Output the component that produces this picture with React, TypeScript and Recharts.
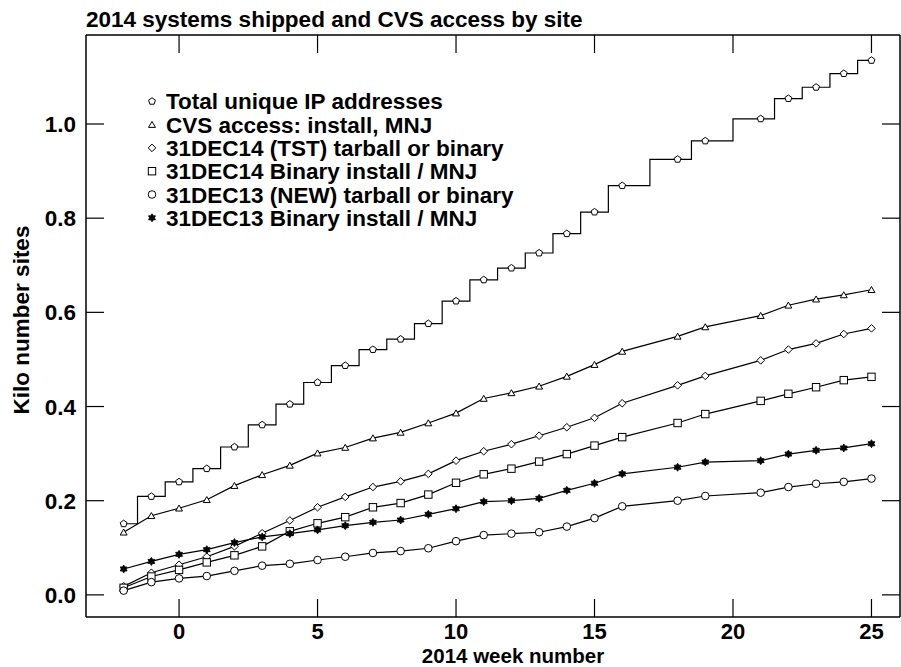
import React from 'react';
import { LineChart, Line, XAxis, YAxis } from 'recharts';

document.body.style.margin = '0';

// weeks 17 and 20 have no samples
const weeks = [-2, -1, 0, 1, 2, 3, 4, 5, 6, 7, 8, 9, 10, 11, 12, 13, 14, 15, 16, 18, 19, 21, 22, 23, 24, 25];

const totalIp = [0.151, 0.209, 0.240, 0.268, 0.314, 0.361, 0.405, 0.451, 0.487, 0.521, 0.543, 0.576, 0.624, 0.669, 0.694, 0.726, 0.767, 0.813, 0.869, 0.925, 0.964, 1.011, 1.054, 1.078, 1.107, 1.135];
const cvsAccess = [0.133, 0.168, 0.184, 0.202, 0.232, 0.255, 0.275, 0.301, 0.313, 0.333, 0.345, 0.365, 0.386, 0.417, 0.429, 0.443, 0.464, 0.489, 0.517, 0.549, 0.569, 0.593, 0.615, 0.628, 0.637, 0.648];
const tst14 = [0.018, 0.047, 0.064, 0.081, 0.103, 0.131, 0.158, 0.186, 0.208, 0.229, 0.241, 0.257, 0.285, 0.305, 0.320, 0.338, 0.356, 0.376, 0.407, 0.445, 0.465, 0.498, 0.521, 0.534, 0.554, 0.566];
const bin14 = [0.015, 0.039, 0.053, 0.069, 0.084, 0.103, 0.135, 0.152, 0.165, 0.186, 0.195, 0.213, 0.238, 0.256, 0.268, 0.283, 0.299, 0.317, 0.335, 0.365, 0.384, 0.412, 0.427, 0.441, 0.456, 0.463];
const new13 = [0.009, 0.027, 0.035, 0.040, 0.051, 0.062, 0.066, 0.074, 0.081, 0.089, 0.093, 0.099, 0.114, 0.127, 0.130, 0.133, 0.145, 0.163, 0.188, 0.200, 0.210, 0.217, 0.229, 0.236, 0.240, 0.247];
const bin13 = [0.055, 0.071, 0.086, 0.096, 0.111, 0.123, 0.130, 0.138, 0.147, 0.154, 0.159, 0.171, 0.183, 0.198, 0.200, 0.205, 0.222, 0.237, 0.257, 0.271, 0.282, 0.285, 0.299, 0.307, 0.312, 0.321];

const xTicks = [0, 5, 10, 15, 20, 25];
const yTicks = [0, 0.2, 0.4, 0.6, 0.8, 1.0];

const seriesDefs = [
  { key: 'totalIp', name: 'Total unique IP addresses', shape: 'pentagon', values: totalIp, type: 'step' },
  { key: 'cvsAccess', name: 'CVS access: install, MNJ', shape: 'triangle', values: cvsAccess, type: 'linear' },
  { key: 'tst14', name: '31DEC14 (TST) tarball or binary', shape: 'diamond', values: tst14, type: 'linear' },
  { key: 'bin14', name: '31DEC14 Binary install / MNJ', shape: 'square', values: bin14, type: 'linear' },
  { key: 'new13', name: '31DEC13 (NEW) tarball or binary', shape: 'circle', values: new13, type: 'linear' },
  { key: 'bin13', name: '31DEC13 Binary install / MNJ', shape: 'star', values: bin13, type: 'linear' },
];

const data = weeks.map((w, i) => {
  const row: Record<string, number> = { week: w };
  seriesDefs.forEach(s => { row[s.key] = s.values[i]; });
  return row;
});

const FONT = '"Liberation Sans", Arial, Helvetica, sans-serif';
const FS = 22.5;
const W = 901;
const H = 667;
const TICK = 18;

function polyPoints(cx: number, cy: number, n: number, r: number, rot: number, inner?: number) {
  const pts: string[] = [];
  const count = inner ? n * 2 : n;
  for (let i = 0; i < count; i++) {
    const rr = inner && i % 2 === 1 ? inner : r;
    const a = rot + (i * 2 * Math.PI) / count;
    pts.push(`${cx + rr * Math.sin(a)},${cy - rr * Math.cos(a)}`);
  }
  return pts.join(' ');
}

function Marker({ cx, cy, shape }: { cx: number; cy: number; shape: string }) {
  const common = { stroke: '#000', strokeWidth: 1, fill: '#fff' };
  switch (shape) {
    case 'pentagon':
      return <polygon points={polyPoints(cx, cy, 5, 3.6, 0)} {...common} />;
    case 'triangle':
      return <polygon points={polyPoints(cx, cy + 0.8, 3, 4, 0)} {...common} />;
    case 'diamond':
      return <polygon points={polyPoints(cx, cy, 4, 3.8, 0)} {...common} />;
    case 'square':
      return <rect x={cx - 3.7} y={cy - 3.7} width={7.4} height={7.4} {...common} />;
    case 'circle':
      return <circle cx={cx} cy={cy} r={3.8} {...common} />;
    case 'star':
      return <polygon points={polyPoints(cx, cy, 6, 4, 0, 2.4)} stroke="#000" strokeWidth={0.8} fill="#000" />;
    default:
      return null;
  }
}

const tickText = { fontFamily: FONT, fontWeight: 700, fill: '#000' };

const LeftTick = (props: any) => {
  const { x, y, payload } = props;
  return (
    <g>
      <line x1={x} x2={x + TICK} y1={y} y2={y} stroke="#000" strokeWidth={1.2} />
      <text x={x - 10} y={y + 8} textAnchor="end" fontSize={FS} {...tickText}>{Number(payload.value).toFixed(1)}</text>
    </g>
  );
};

const RightTick = (props: any) => {
  const { x, y } = props;
  return <line x1={x - TICK} x2={x} y1={y} y2={y} stroke="#000" strokeWidth={1.2} />;
};

const BottomTick = (props: any) => {
  const { x, y, payload } = props;
  return (
    <g>
      <line x1={x} x2={x} y1={y} y2={y - TICK} stroke="#000" strokeWidth={1.2} />
      <text x={x} y={y + 22.3} textAnchor="middle" fontSize={22} {...tickText}>{payload.value}</text>
    </g>
  );
};

const TopTick = (props: any) => {
  const { x, y } = props;
  return <line x1={x} x2={x} y1={y} y2={y + TICK} stroke="#000" strokeWidth={1.2} />;
};

const xDomain: [number, number] = [-3.36, 26.03];
const yDomain: [number, number] = [-0.047, 1.189];
const frame = { stroke: '#000', strokeWidth: 1.5 };

export default function App() {
  return (
    <div style={{ position: 'relative', width: W, height: H, background: '#fff' }}>
      <LineChart width={W} height={H} data={data} margin={{ top: 34, right: 0, bottom: 49, left: 85 }}>
        <XAxis
          dataKey="week"
          type="number"
          domain={xDomain}
          allowDataOverflow
          ticks={xTicks}
          height={1}
          tickSize={0}
          tickMargin={0}
          tick={<BottomTick />}
          axisLine={frame}
          interval={0}
        />
        <XAxis
          xAxisId="top"
          orientation="top"
          dataKey="week"
          type="number"
          domain={xDomain}
          allowDataOverflow
          ticks={xTicks}
          height={1}
          tickSize={0}
          tickMargin={0}
          tick={<TopTick />}
          axisLine={frame}
          interval={0}
        />
        <YAxis
          type="number"
          domain={yDomain}
          allowDataOverflow
          ticks={yTicks}
          width={1}
          tickSize={0}
          tickMargin={0}
          tick={<LeftTick />}
          axisLine={frame}
          interval={0}
        />
        <YAxis
          yAxisId="right"
          orientation="right"
          type="number"
          domain={yDomain}
          allowDataOverflow
          ticks={yTicks}
          width={1}
          tickSize={0}
          tickMargin={0}
          tick={<RightTick />}
          axisLine={frame}
          interval={0}
        />
        {seriesDefs.map(s => (
          <Line
            key={s.key}
            dataKey={s.key}
            name={s.name}
            type={s.type as any}
            stroke="#000"
            strokeWidth={1.2}
            isAnimationActive={false}
            activeDot={false}
            dot={(p: any) => <Marker key={`${s.key}-${p.index}`} cx={p.cx} cy={p.cy} shape={s.shape} />}
          />
        ))}
      </LineChart>
      <svg width={W} height={H} style={{ position: 'absolute', left: 0, top: 0, pointerEvents: 'none' }}>
        <text x={86} y={27} fontFamily={FONT} fontWeight={700} fontSize={FS} fill="#000">
          2014 systems shipped and CVS access by site
        </text>
        <text x={513} y={662.6} textAnchor="middle" fontFamily={FONT} fontWeight={700} fontSize={20.5} fill="#000">
          2014 week number
        </text>
        <text
          x={0}
          y={0}
          transform="translate(29 320) rotate(-90)"
          textAnchor="middle"
          fontFamily={FONT}
          fontWeight={700}
          fontSize={FS}
          fill="#000"
        >
          Kilo number sites
        </text>
        {seriesDefs.map((s, i) => {
          const cy = 101.3 + i * 23.3;
          return (
            <g key={s.key}>
              <Marker cx={152} cy={cy} shape={s.shape} />
              <text x={166} y={cy + 8} fontFamily={FONT} fontWeight={700} fontSize={FS} fill="#000">
                {s.name}
              </text>
            </g>
          );
        })}
      </svg>
    </div>
  );
}
